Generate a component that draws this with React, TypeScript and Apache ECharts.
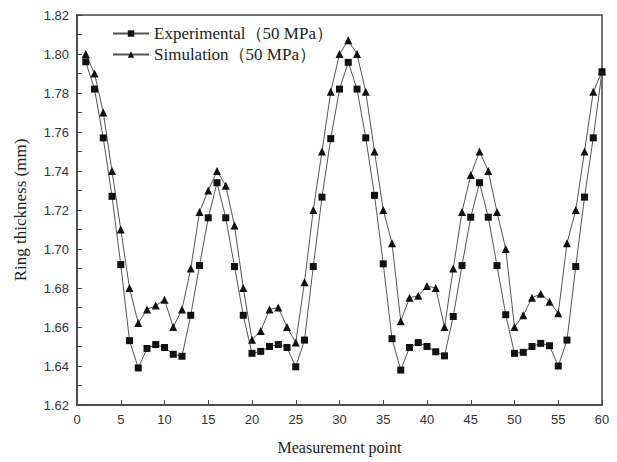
import React, { useEffect, useRef } from "react";
import * as echarts from "echarts";

const points: number[] = Array.from({ length: 60 }, (_, i) => i + 1);

const experimental: number[] = [
  1.796, 1.782, 1.757, 1.727, 1.692, 1.653, 1.639, 1.649, 1.651, 1.6495,
  1.646, 1.645, 1.666, 1.6915, 1.716, 1.734, 1.716, 1.691, 1.666, 1.6465,
  1.6475, 1.650, 1.651, 1.6495, 1.6396, 1.6533, 1.691, 1.7266, 1.7566, 1.782,
  1.7957, 1.782, 1.757, 1.7275, 1.6924, 1.654, 1.6379, 1.6495, 1.652, 1.650,
  1.6473, 1.6452, 1.6654, 1.6915, 1.7163, 1.734, 1.7163, 1.6915, 1.6663, 1.6465,
  1.647, 1.650, 1.6516, 1.6504, 1.640, 1.6533, 1.691, 1.7266, 1.757, 1.7909,
];

const simulation: number[] = [
  1.800, 1.790, 1.770, 1.740, 1.710, 1.680, 1.662, 1.669, 1.671, 1.674,
  1.660, 1.669, 1.690, 1.719, 1.730, 1.740, 1.7325, 1.712, 1.680, 1.6535,
  1.658, 1.669, 1.670, 1.660, 1.652, 1.683, 1.720, 1.750, 1.7806, 1.800,
  1.807, 1.800, 1.7806, 1.750, 1.720, 1.703, 1.663, 1.675, 1.676, 1.681,
  1.680, 1.660, 1.690, 1.719, 1.738, 1.750, 1.740, 1.719, 1.700, 1.660,
  1.666, 1.675, 1.677, 1.673, 1.667, 1.703, 1.720, 1.750, 1.7806, 1.791,
];

const seriesNames: string[] = ["Experimental（50 MPa）", "Simulation（50 MPa）"];

export default function App() {
  const ref = useRef<HTMLDivElement>(null);
  useEffect(() => {
    if (!ref.current) return;
    const chart = echarts.init(ref.current, undefined, { renderer: "svg" });
    const serif = "'Liberation Serif', 'Times New Roman', serif";
    const sans = "'Liberation Sans', Arial, sans-serif";
    chart.setOption({
      animation: false,
      backgroundColor: "#fff",
      grid: {
        left: 77,
        right: 15,
        top: 15,
        bottom: 57,
        show: true,
        borderColor: "#444",
        borderWidth: 1.5,
      },
      legend: {
        orient: "vertical",
        left: 112,
        top: 20,
        padding: [5, 5, 5, 0],
        itemWidth: 36,
        itemHeight: 8,
        itemGap: 4,
        textStyle: { fontFamily: serif, fontSize: 17, color: "#222" },
        data: [seriesNames[0], seriesNames[1]],
      },
      xAxis: {
        type: "value",
        min: 0,
        max: 60,
        interval: 5,
        name: "Measurement point",
        nameLocation: "middle",
        nameGap: 34,
        nameTextStyle: { fontFamily: serif, fontSize: 16, color: "#222" },
        axisLine: { show: true, lineStyle: { color: "#444", width: 1.5 } },
        axisTick: { show: true, inside: true, length: 5, lineStyle: { color: "#444" } },
        axisLabel: { fontFamily: sans, fontSize: 13, color: "#333", margin: 8 },
        splitLine: { show: false },
      },
      yAxis: {
        type: "value",
        min: 1.62,
        max: 1.82,
        interval: 0.02,
        name: "Ring thickness (mm)",
        nameLocation: "middle",
        nameGap: 48,
        nameTextStyle: { fontFamily: serif, fontSize: 17, color: "#222" },
        axisLine: { show: true, lineStyle: { color: "#444", width: 1.5 } },
        axisTick: { show: true, inside: true, length: 5, lineStyle: { color: "#444" } },
        minorTick: { show: true, splitNumber: 2, length: 5, lineStyle: { color: "#444" } },
        axisLabel: {
          fontFamily: sans,
          fontSize: 13,
          color: "#333",
          margin: 8,
          formatter: (v: number) => v.toFixed(2),
        },
        splitLine: { show: false },
      },
      series: [
        {
          name: seriesNames[0],
          type: "line",
          data: points.map((p, i) => [p, experimental[i]]),
          symbol: "rect",
          symbolSize: 7,
          lineStyle: { color: "#555", width: 1 },
          itemStyle: { color: "#111" },
        },
        {
          name: seriesNames[1],
          type: "line",
          data: points.map((p, i) => [p, simulation[i]]),
          symbol: "triangle",
          symbolSize: 8,
          lineStyle: { color: "#555", width: 1 },
          itemStyle: { color: "#111" },
        },
      ],
    });
    return () => chart.dispose();
  }, []);
  return <div ref={ref} style={{ width: 617, height: 462, position: "absolute", left: 0, top: 0 }} />;
}
